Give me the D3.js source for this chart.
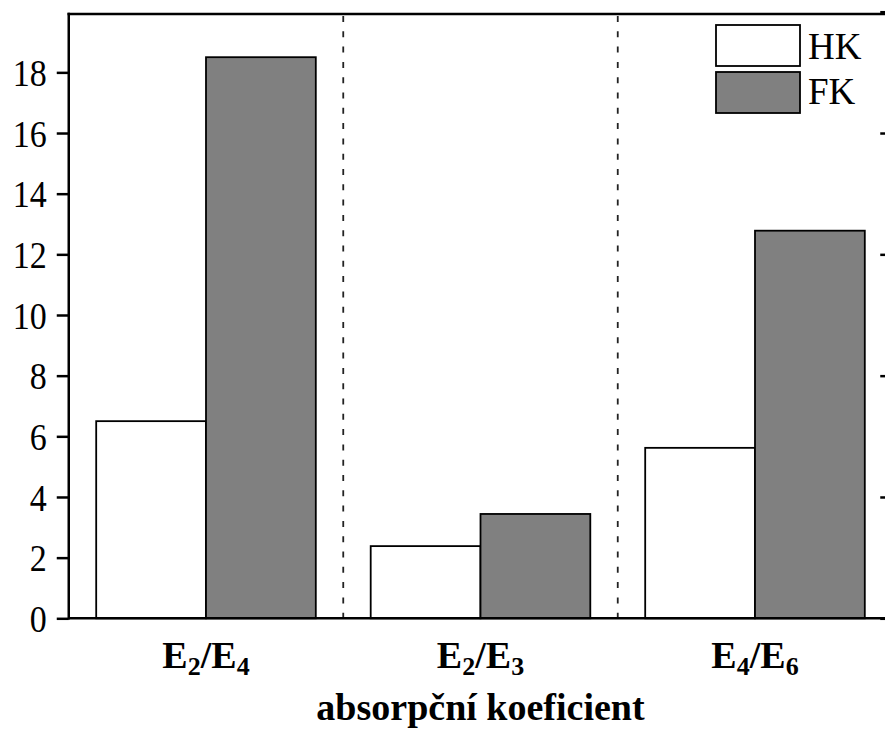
<!DOCTYPE html>
<html>
<head>
<meta charset="utf-8">
<script src="https://cdn.jsdelivr.net/npm/d3@7"></script>
<style>
  html, body { margin: 0; padding: 0; background: #fff; }
  svg { display: block; }
  text { font-family: "Liberation Serif", "Times New Roman", serif; fill: #000; }
</style>
</head>
<body>
<svg id="chart" width="885" height="735"></svg>
<script>
// ---- data ----
const categories = ["E2/E4", "E2/E3", "E4/E6"];
const series = ["HK", "FK"];
const hkValues = [6.5, 2.38, 5.62];
const fkValues = [18.5, 3.44, 12.78];
const yTicks = [0, 2, 4, 6, 8, 10, 12, 14, 16, 18];
const rightTicks = [0, 4, 8, 12, 16, 20];
const xTitle = "absorpční koeficient";
const seriesFill = { HK: "#ffffff", FK: "#808080" };

(function () {
// ---- layout ----
const svg = d3.select("#chart");
const pL = 68.75, pR = 892.25, pT = 14, pB = 618.3;

const y = d3.scaleLinear().domain([0, 20]).range([pB, 11.7]);
const x = d3.scaleBand().domain(categories).range([pL, pR]).padding(0);
const xs = d3.scaleBand().domain(series).range([0, x.bandwidth()]).paddingInner(0).paddingOuter(0.25);

const rows = categories.map((c, i) => ({ cat: c, HK: hkValues[i], FK: fkValues[i] }));

// dashed separators
svg.append("g").selectAll("line")
  .data(categories.slice(1))
  .join("line")
  .attr("x1", d => x(d)).attr("x2", d => x(d))
  .attr("y1", pT + 2).attr("y2", pB)
  .attr("stroke", "#222").attr("stroke-width", 1.8)
  .attr("stroke-dasharray", "6,9.3");

// bars
const g = svg.append("g");
rows.forEach(r => {
  series.forEach(s => {
    g.append("rect")
      .attr("x", x(r.cat) + xs(s))
      .attr("y", y(r[s]))
      .attr("width", xs.bandwidth())
      .attr("height", pB - y(r[s]))
      .attr("fill", seriesFill[s])
      .attr("stroke", "#000")
      .attr("stroke-width", 1.8);
  });
});

// left axis
const yAxis = d3.axisLeft(y).tickValues(yTicks).tickSize(12).tickPadding(10).tickFormat(d3.format("d"));
const ya = svg.append("g").attr("transform", `translate(${pL},0)`).call(yAxis);
ya.select(".domain").remove();
ya.selectAll(".tick line").attr("stroke", "#000").attr("stroke-width", 2.5);
ya.selectAll(".tick text").attr("font-size", 34).attr("dy", "0.34em")
  .attr("transform", "scale(1,1.14)")
  .style("font-family", '"Liberation Serif", "Times New Roman", serif');
svg.append("line").attr("x1", pL).attr("x2", pL).attr("y1", pT - 1.25).attr("y2", pB + 1.25)
  .attr("stroke", "#000").attr("stroke-width", 2.5);

// right axis (ticks inward)
const ra = svg.append("g").attr("transform", `translate(${pR},0)`)
  .call(d3.axisLeft(y).tickValues(rightTicks).tickSize(12).tickFormat(""));
ra.select(".domain").remove();
ra.selectAll(".tick line").attr("stroke", "#000").attr("stroke-width", 2.5);
svg.append("line").attr("x1", pR).attr("x2", pR).attr("y1", pT).attr("y2", pB)
  .attr("stroke", "#000").attr("stroke-width", 2.5);

// top frame and bottom axis line
svg.append("line").attr("x1", pL - 1.25).attr("x2", pR).attr("y1", pT).attr("y2", pT)
  .attr("stroke", "#000").attr("stroke-width", 2.5);
svg.append("line").attr("x1", pL).attr("x2", pR).attr("y1", pB).attr("y2", pB)
  .attr("stroke", "#000").attr("stroke-width", 2.5);

// category labels with subscripts
const labels = svg.append("g");
categories.forEach(c => {
  const parts = c.split("/");
  const t = labels.append("text")
    .attr("x", x(c) + x.bandwidth() / 2)
    .attr("y", 668)
    .attr("text-anchor", "middle")
    .attr("font-size", 38)
    .attr("font-weight", "bold");
  parts.forEach((p, i) => {
    if (i > 0) t.append("tspan").attr("dy", -7).text("/");
    t.append("tspan").text(p[0]);
    t.append("tspan").attr("font-size", 26).attr("dy", 7).text(p.slice(1));
  });
});

// x title
svg.append("text")
  .attr("x", 480.5)
  .attr("y", 720)
  .attr("text-anchor", "middle")
  .attr("font-size", 38)
  .attr("font-weight", "bold")
  .text(xTitle);

// legend
const leg = svg.append("g");
series.forEach((s, i) => {
  leg.append("rect")
    .attr("x", 716).attr("y", 25 + i * 47)
    .attr("width", 84).attr("height", 41)
    .attr("fill", seriesFill[s]).attr("stroke", "#000").attr("stroke-width", 1.8);
  leg.append("text")
    .attr("x", 808).attr("y", 59 + i * 45)
    .attr("font-size", 37)
    .text(s);
});
})();
</script>
</body>
</html>
